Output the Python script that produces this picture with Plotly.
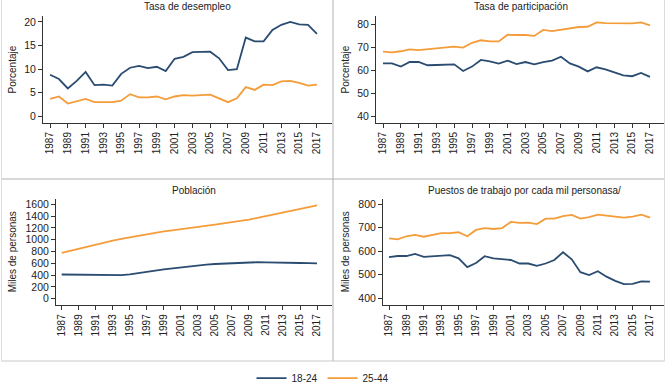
import plotly.graph_objects as go

years = list(range(1987, 2018))

desempleo_18_24 = [8.8, 7.9, 5.9, 7.5, 9.4, 6.6, 6.7, 6.5, 9.0, 10.3, 10.7, 10.2, 10.5, 9.6, 12.2, 12.6,
                   13.6, 13.7, 13.7, 12.3, 9.8, 10.0, 16.7, 15.9, 15.9, 18.3, 19.4, 20.0, 19.5, 19.4, 17.5]
desempleo_25_44 = [3.7, 4.2, 2.7, 3.2, 3.7, 3.0, 3.0, 3.0, 3.3, 4.7, 4.0, 4.0, 4.2, 3.6, 4.2, 4.5,
                   4.4, 4.5, 4.6, 3.8, 3.0, 3.8, 6.2, 5.6, 6.7, 6.6, 7.4, 7.5, 7.1, 6.5, 6.7]

particip_18_24 = [63.1, 63.1, 61.7, 63.7, 63.7, 62.3, 62.4, 62.7, 62.7, 59.8, 61.7, 64.6, 64.0, 63.0, 64.3, 62.8,
                  63.7, 62.7, 63.7, 64.3, 66.0, 63.1, 61.7, 59.6, 61.4, 60.5, 59.3, 57.9, 57.5, 58.9, 57.2]
particip_25_44 = [68.2, 67.9, 68.4, 69.2, 68.9, 69.2, 69.7, 69.8, 70.4, 70.0, 72.1, 73.2, 72.7, 72.7, 75.6, 75.5,
                  75.5, 75.1, 77.7, 77.2, 77.8, 78.5, 79.0, 79.1, 81.0, 80.7, 80.7, 80.6, 80.6, 81.0, 79.7]

poblacion_18_24 = [410, 408, 405, 402, 400, 397, 395, 400, 412, 430, 452, 475, 497, 515, 531, 548,
                   565, 578, 588, 594, 599, 610, 621, 619, 616, 616, 616, 610, 605, 602, 599]
poblacion_25_44 = [775, 812, 850, 885, 920, 953, 985, 1013, 1040, 1065, 1090, 1115, 1140, 1158, 1175, 1195,
                   1215, 1235, 1255, 1275, 1295, 1318, 1340, 1370, 1400, 1430, 1460, 1490, 1520, 1550, 1580]

puestos_18_24 = [575, 580, 580, 589, 576, 579, 580, 584, 570, 533, 550, 579, 570, 567, 563, 548,
                 548, 538, 548, 563, 596, 566, 511, 499, 515, 492, 474, 460, 461, 472, 471]
puestos_25_44 = [655, 651, 664, 670, 662, 668, 677, 677, 681, 664, 691, 699, 695, 699, 725, 721,
                 722, 716, 739, 739, 750, 755, 739, 745, 756, 752, 746, 743, 748, 756, 743]

titles = ["Tasa de desempleo", "Tasa de participación", "Población", "Puestos de trabajo por cada mil personasa/"]
ytitles = ["Porcentaje", "Porcentaje", "Miles de personas", "Miles de personas"]
xticks = list(range(1987, 2018, 2))
yticks = [[0, 5, 10, 15, 20], [40, 50, 60, 70, 80], list(range(0, 1601, 200)), [400, 500, 600, 700, 800]]

W, H = 666, 383
BLUE = "#2b4c71"
ORANGE = "#f59c3a"
FONT = "Liberation Sans, Arial, sans-serif"

# panel geometry in pixels: (left, right, top, bottom) of plot area
geo = [(43, 332, 16, 123), (376, 665, 16, 123), (56, 332, 199.3, 305.3), (383, 665, 199.3, 305.3)]
yranges = [[-1.42, 21.27], [37.07, 83.8], [-111.9, 1684.7], [370.2, 821.3]]
xranges = [[1986.21, 2018.69], [1986.21, 2018.69], [1986.33, 2018.76], [1986.31, 2018.72]]

series = [(desempleo_18_24, desempleo_25_44), (particip_18_24, particip_25_44),
          (poblacion_18_24, poblacion_25_44), (puestos_18_24, puestos_25_44)]

fig = go.Figure()
layout = {}
annotations = []
for i, ((a, b), (l, r, t, bt)) in enumerate(zip(series, geo)):
    n = "" if i == 0 else str(i + 1)
    fig.add_trace(go.Scatter(x=years, y=a, mode="lines", name="18-24", line=dict(color=BLUE, width=1.8),
                             xaxis="x" + n, yaxis="y" + n, showlegend=(i == 0), legendgroup="a"))
    fig.add_trace(go.Scatter(x=years, y=b, mode="lines", name="25-44", line=dict(color=ORANGE, width=1.8),
                             xaxis="x" + n, yaxis="y" + n, showlegend=(i == 0), legendgroup="b"))
    layout["xaxis" + n] = dict(domain=[l / W, r / W], anchor="y" + n, range=xranges[i],
                               tickvals=xticks, ticktext=[str(v) for v in xticks], tickangle=-90,
                               showline=True, linecolor="#333", linewidth=1, ticks="outside",
                               ticklen=4, tickcolor="#333", showgrid=False, zeroline=False,
                               tickfont=dict(size=10, color="#222", family=FONT))
    layout["yaxis" + n] = dict(domain=[1 - bt / H, 1 - t / H], anchor="x" + n, range=yranges[i],
                               tickvals=yticks[i], showline=True, linecolor="#333", linewidth=1,
                               ticks="outside", ticklen=4, tickcolor="#333", showgrid=False,
                               zeroline=False, tickfont=dict(size=10.5, color="#222", family=FONT))
    annotations.append(dict(text=titles[i], x=(l + r) / 2 / W, y=1 - (t - 9) / H, xref="paper", yref="paper",
                            showarrow=False, font=dict(size=10, color="#222", family=FONT),
                            xanchor="center", yanchor="middle"))
    px = 12 if i % 2 == 0 else 345
    annotations.append(dict(text=ytitles[i], x=px / W, y=1 - (t + bt) / 2 / H, xref="paper", yref="paper",
                            showarrow=False, textangle=-90, font=dict(size=10, color="#222", family=FONT),
                            xanchor="center", yanchor="middle"))

shapes = []
def line(x0, y0, x1, y1, color):
    shapes.append(dict(type="line", xref="paper", yref="paper", x0=x0 / W, x1=x1 / W,
                       y0=1 - y0 / H, y1=1 - y1 / H, line=dict(color=color, width=1)))

line(333, 0, 333, 361, "#b0b0b0")
line(1.5, 179, 664.5, 179, "#b0b0b0")
line(1.5, 361, 664.5, 361, "#c8c8c8")
line(1.5, 0, 1.5, 361, "#dcdcdc")
line(664.5, 0, 664.5, 361, "#dcdcdc")

fig.update_layout(**layout)
fig.update_layout(
    width=W, height=H, margin=dict(l=0, r=0, t=0, b=0, autoexpand=False),
    paper_bgcolor="white", plot_bgcolor="white",
    annotations=annotations, shapes=shapes,
    font=dict(family=FONT, size=10, color="#222"),
    legend=dict(orientation="h", x=0.485, xanchor="center", y=-0.025, yanchor="bottom",
                font=dict(size=10, color="#222", family=FONT), itemwidth=30,
                bgcolor="rgba(0,0,0,0)", tracegroupgap=0),
    showlegend=True,
)

fig.write_html("out.html")
